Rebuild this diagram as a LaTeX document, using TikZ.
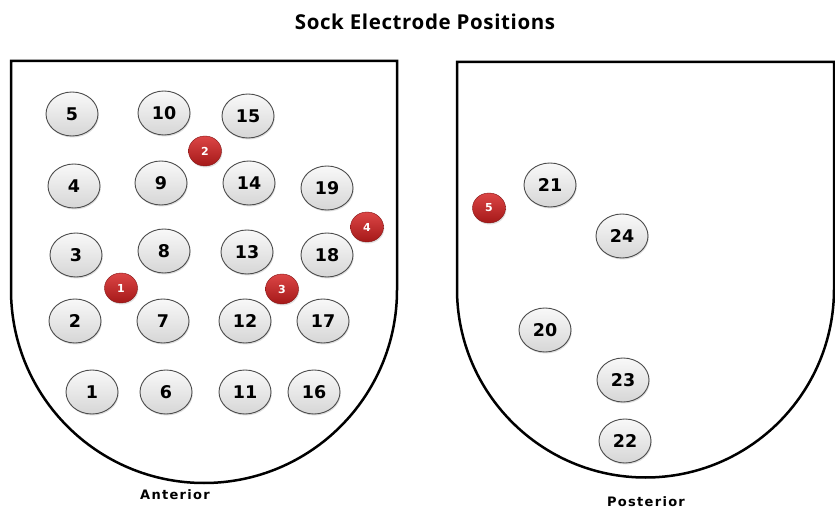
\documentclass[tikz,border=0pt]{standalone}
\usepackage{fontspec}
\setmainfont{DejaVu Sans}
\newfontfamily\titlefont[LetterSpace=3]{Open Sans}
\newfontfamily\labfont[LetterSpace=10]{DejaVu Sans}
\usetikzlibrary{shapes.geometric,shadows}
\definecolor{dotlight}{RGB}{220,70,70}
\definecolor{dotdark}{RGB}{165,25,25}
\tikzset{
  elec/.style={ellipse, minimum width=52pt, minimum height=44pt, inner sep=0pt,
    draw=black!70, line width=0.9pt, top color=gray!5, bottom color=gray!32,
    drop shadow={opacity=0.25, shadow xshift=0.8pt, shadow yshift=-1.5pt},
    font=\fontsize{17.5}{17.5}\selectfont\bfseries},
  reddot/.style={ellipse, minimum width=33pt, minimum height=30pt, inner sep=0pt,
    top color=dotlight, bottom color=dotdark, draw=dotdark!80!black, line width=0.4pt,
    drop shadow={opacity=0.25, shadow xshift=0.8pt, shadow yshift=-1.5pt},
    text=white, font=\fontsize{11}{11}\selectfont\bfseries},
  shield/.style={draw=black, line width=2.5pt, fill=white},
  sidelab/.style={font=\fontsize{13}{13}\labfont\bfseries},
}
\begin{document}
\begin{tikzpicture}[x=1pt,y=1pt]
\useasboundingbox (0,0) rectangle (835,-510);
% title
\node[font=\fontsize{20.5}{22}\titlefont\bfseries] (title) at (425,-22) {Sock Electrode Positions};
% shields
\draw[shield] (11,-290) -- (11,-61) -- (397,-61) -- (397,-290)
  arc[start angle=0, end angle=-180, radius=193] -- cycle;
\draw[shield] (457,-289) -- (457,-62) -- (834,-62) -- (834,-289)
  arc[start angle=0, end angle=-180, radius=188.5] -- cycle;
% anterior electrodes
\node[elec] (e5)  at (72,-114) {5};
\node[elec] (e10) at (164,-113) {10};
\node[elec] (e15) at (248,-116) {15};
\node[elec] (e4)  at (74,-186) {4};
\node[elec] (e9)  at (161,-183) {9};
\node[elec] (e14) at (249,-183) {14};
\node[elec] (e19) at (327,-188) {19};
\node[elec] (e3)  at (76,-255) {3};
\node[elec] (e8)  at (164,-251) {8};
\node[elec] (e13) at (247,-252) {13};
\node[elec] (e18) at (327,-255) {18};
\node[elec] (e2)  at (75,-321) {2};
\node[elec] (e7)  at (163,-321) {7};
\node[elec] (e12) at (245,-321) {12};
\node[elec] (e17) at (323,-321) {17};
\node[elec] (e1)  at (92,-392) {1};
\node[elec] (e6)  at (166,-392) {6};
\node[elec] (e11) at (245,-392) {11};
\node[elec] (e16) at (314,-392) {16};
% posterior electrodes
\node[elec] (e21) at (550,-185) {21};
\node[elec] (e24) at (622,-236) {24};
\node[elec] (e20) at (545,-330) {20};
\node[elec] (e23) at (623,-380) {23};
\node[elec] (e22) at (625,-441) {22};
% red markers
\node[reddot] (r1) at (121,-288) {1};
\node[reddot] (r2) at (205,-151) {2};
\node[reddot] (r3) at (282,-289) {3};
\node[reddot] (r4) at (367,-227) {4};
\node[reddot] (r5) at (489,-208) {5};
% labels
\node[sidelab] (ant) at (175,-495) {Anterior};
\node[sidelab] (post) at (646,-502) {Posterior};
\end{tikzpicture}
\end{document}
